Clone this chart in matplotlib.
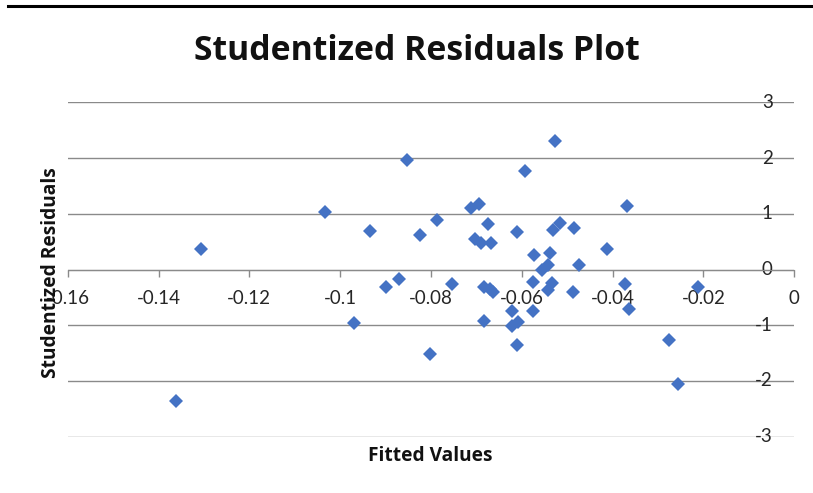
import matplotlib
matplotlib.use('Agg')
import matplotlib.pyplot as plt
from matplotlib.lines import Line2D
import numpy as np

# fitted values and studentized residuals
fitted = [-0.1362, -0.1307, -0.1034, -0.0935, -0.0970, -0.0899, -0.0870, -0.0852,
          -0.0825, -0.0786, -0.0802, -0.0753, -0.0712, -0.0695, -0.0674, -0.0703,
          -0.0689, -0.0667, -0.0683, -0.0670, -0.0663, -0.0683, -0.0611, -0.0594,
          -0.0622, -0.0622, -0.0608, -0.0611, -0.0574, -0.0575, -0.0576, -0.0556,
          -0.0542, -0.0537, -0.0527, -0.0532, -0.0516, -0.0534, -0.0542, -0.0487,
          -0.0485, -0.0474, -0.0412, -0.0373, -0.0369, -0.0365, -0.0275, -0.0257,
          -0.0211]
residuals = [-2.36, 0.36, 1.03, 0.69, -0.96, -0.31, -0.17, 1.97,
             0.62, 0.88, -1.51, -0.26, 1.10, 1.17, 0.82, 0.54,
             0.48, 0.47, -0.32, -0.35, -0.41, -0.93, 0.67, 1.76,
             -0.74, -1.01, -0.95, -1.36, 0.26, -0.22, -0.74, 0.00,
             0.08, 0.29, 2.30, 0.70, 0.84, -0.25, -0.36, -0.41,
             0.75, 0.08, 0.37, -0.26, 1.14, -0.70, -1.27, -2.05,
             -0.32]

xticks = [-0.16, -0.14, -0.12, -0.1, -0.08, -0.06, -0.04, -0.02, 0]
xticklabels = ['-0.16', '-0.14', '-0.12', '-0.1', '-0.08', '-0.06', '-0.04', '-0.02', '0']
yticks = [-3, -2, -1, 0, 1, 2, 3]

plt.rcParams['font.family'] = ['Lato', 'DejaVu Sans']

W, H = 813, 493
fig = plt.figure(figsize=(W / 100, H / 100), dpi=100)
ax = fig.add_axes([67.7 / W, 1 - 436.7 / H, (794.3 - 67.7) / W, (436.7 - 102.3) / H])

grid_col = '#8a8a8a'
text_col = '#262626'
ax.set_xlim(-0.16, 0)
ax.set_ylim(-3, 3)

# horizontal gridlines
for v in yticks:
    ax.axhline(v, color=grid_col, lw=1.0, zorder=1)

ax.plot(fitted, residuals, linestyle='none', marker='D', markersize=7,
        color='#4472C4', markeredgewidth=0, zorder=3)

for s in ['top', 'left', 'right']:
    ax.spines[s].set_visible(False)
ax.spines['bottom'].set_position(('data', 0))
ax.spines['bottom'].set_color(grid_col)

ax.set_xticks(xticks)
ax.set_xticklabels(xticklabels, fontsize=13.5, color=text_col)
ax.tick_params(axis='x', direction='out', length=5, width=1, color=grid_col, pad=10)

# value labels sit just inside the right end of each gridline
ax.set_yticks([])
ytrans = ax.get_yaxis_transform()
for v in yticks:
    ax.text(1 - 21.5 / (794.3 - 67.7), v, str(v), transform=ytrans, ha='right',
            va='center', fontsize=13.5, color=text_col, zorder=2)

bold = ['Open Sans', 'DejaVu Sans']
fig.text(416.5 / W, 1 - 60 / H, 'Studentized Residuals Plot', ha='center', va='baseline',
         fontsize=24.3, fontweight='bold', color='#111111', family=bold)
fig.text(430 / W, 1 - 461 / H, 'Fitted Values', ha='center', va='baseline',
         fontsize=13.8, fontweight='bold', color='#111111', family=bold)
fig.text(51 / W, 1 - 273 / H, 'Studentized Residuals', ha='center', va='center',
         rotation=90, fontsize=13.8, fontweight='bold', color='#111111', family=bold)

# top border line
fig.add_artist(Line2D([8 / W, 1], [1 - 6.2 / H, 1 - 6.2 / H], color='black', lw=2.2))

fig.savefig('out.png', dpi=100)
